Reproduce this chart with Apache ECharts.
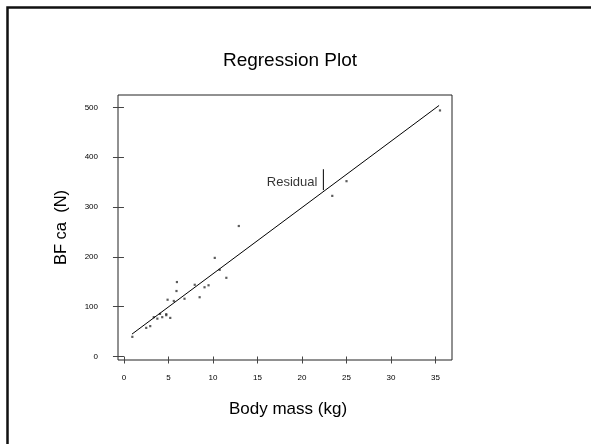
<!DOCTYPE html>
<html><head><meta charset="utf-8">
<script src="https://cdn.jsdelivr.net/npm/echarts@6/dist/echarts.min.js"></script>
<style>html,body{margin:0;padding:0;background:#fff}#c{width:591px;height:444px}</style>
</head><body><div id="c"></div>
<script>
var bodyMass = [0.94,2.5,2.95,3.35,3.75,4.05,4.3,4.75,4.75,5.2,4.9,5.6,5.9,5.95,6.8,7.95,8.5,9.05,9.5,10.2,10.75,11.5,12.9,23.4,25.0,35.5];
var bfca = [39.5,57.5,61,79,76,85.5,79,85,83,77.5,114,111.5,131.5,149.5,116,144,119,139,143,198,174,158,262,322.5,352,494];
var fitX = [0.9, 35.4];
var fitY = [45, 504];
var residualX = [22.4, 22.4];
var residualY = [334, 376];
var xTicks = [0,5,10,15,20,25,30,35];
var yTicks = [0,100,200,300,400,500];

var font = '"Liberation Sans", Arial, sans-serif';
var chart = echarts.init(document.getElementById('c'), null, {renderer:'canvas'});
chart.setOption({
  animation:false,
  backgroundColor:'#fff',
  title:{text:'Regression Plot', left:285, textAlign:'center', top:46,
    textStyle:{fontFamily:font, fontSize:19, fontWeight:'normal', color:'#000'}},
  grid:{left:118, top:95, width:334, height:265, show:true, borderColor:'#222', borderWidth:1, backgroundColor:'transparent'},
  xAxis:{type:'value', min:-0.67, max:36.85, offset:1,
    name:'Body mass (kg)', nameLocation:'middle', nameGap:40,
    nameTextStyle:{fontFamily:font, fontSize:17, color:'#000', padding:[0,0,0,6]},
    axisLine:{show:false}, splitLine:{show:false},
    axisTick:{show:true, length:7, lineStyle:{color:'#444'}, customValues:xTicks},
    axisLabel:{fontFamily:font, fontSize:8, color:'#000', margin:13, customValues:xTicks}},
  yAxis:{type:'value', min:-7, max:525,
    name:'BF ca  (N)', nameLocation:'middle', nameGap:48, nameRotate:90,
    nameTextStyle:{fontFamily:font, fontSize:16.5, color:'#000'},
    axisLine:{show:false}, splitLine:{show:false},
    axisTick:{show:true, length:11, lineStyle:{color:'#444'}, customValues:yTicks},
    axisLabel:{fontFamily:font, fontSize:8, color:'#000', margin:20, customValues:yTicks}},
  graphic:[{type:'rect', shape:{x:7.5, y:7.5, width:700, height:600},
    style:{fill:'none', stroke:'#111', lineWidth:2.5}, z:100}],
  series:[
    {type:'line', data:fitX.map(function(v,i){return [v, fitY[i]];}), symbol:'none',
      lineStyle:{color:'#000', width:1}, silent:true},
    {type:'line', data:residualX.map(function(v,i){return [v, residualY[i]];}), symbol:'none',
      lineStyle:{color:'#000', width:1}, silent:true},
    {type:'scatter', data:[[residualX[0], 349]], symbolSize:0,
      label:{show:true, position:'left', distance:6, formatter:'Residual',
        fontFamily:font, fontSize:13, color:'#000'}, silent:true},
    {type:'scatter', data:bodyMass.map(function(v,i){return [v, bfca[i]];}),
      symbol:'rect', symbolSize:2.2, itemStyle:{color:'#333'}}
  ]
});
</script></body></html>
